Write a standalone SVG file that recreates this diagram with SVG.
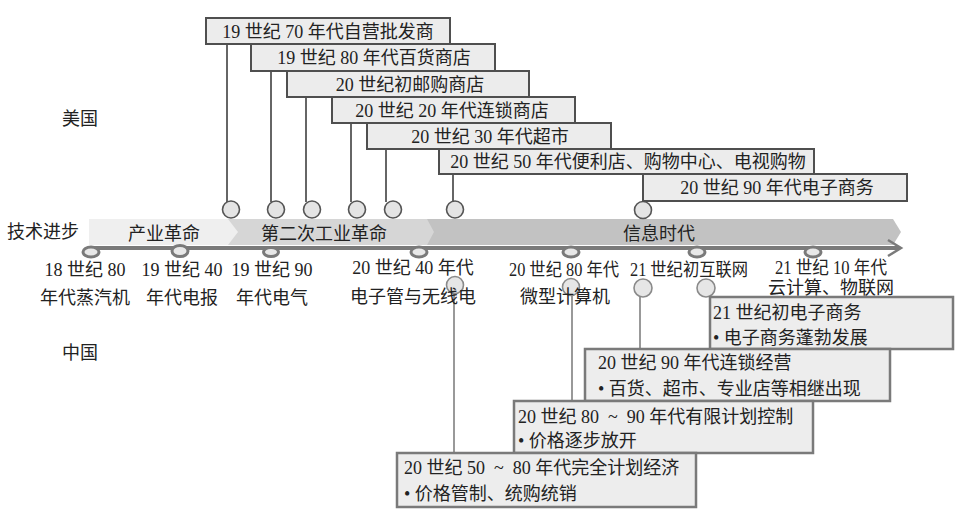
<svg xmlns="http://www.w3.org/2000/svg" width="963" height="520" viewBox="0 0 963 520">
<defs>
<style>
text{font-family:"Liberation Serif","Noto Sans CJK SC",serif;font-size:18px;fill:#222}
.c{text-anchor:middle}
.us rect{fill:#ececec;stroke:#4f4f4f;stroke-width:2}
.cn rect{fill:#ededed;stroke:#7a7a7a;stroke-width:2.5}
.usl{stroke:#666;stroke-width:2;fill:none}
.cnl{stroke:#999;stroke-width:2;fill:none}
.usc{fill:#e4e4e4;stroke:#555;stroke-width:1.6}
.cnc{fill:#e6e6e6;stroke:#8a8a8a;stroke-width:1.6}
.tk{fill:#e8e8e8;stroke:#7a7a7a;stroke-width:3}
</style>
</defs>
<rect width="963" height="520" fill="#fff"/>

<!-- side labels -->
<text x="62" y="125">美国</text>
<text x="7" y="238">技术进步</text>
<text x="62" y="359">中国</text>

<!-- technology band -->
<g id="band">
<polygon points="420,219 893,219 901,232 893,245 420,245" fill="#c2c2c2"/>
<polygon points="228,219 427,219 434,232 427,245 228,245" fill="#d6d6d6"/>
<polygon points="89,219 228,219 238,232 228,245 89,245" fill="#efefef"/>
<text class="c" x="164" y="240">产业革命</text>
<text class="c" x="324" y="240">第二次工业革命</text>
<text class="c" x="659" y="240">信息时代</text>
</g>

<!-- connectors -->
<g id="connectors">
<line class="usl" x1="227" y1="44" x2="227" y2="202"/>
<line class="usl" x1="271" y1="71" x2="271" y2="202"/>
<line class="usl" x1="306" y1="97" x2="306" y2="202"/>
<line class="usl" x1="351" y1="123" x2="351" y2="202"/>
<line class="usl" x1="386" y1="149" x2="386" y2="202"/>
<line class="usl" x1="453" y1="174" x2="453" y2="202"/>
<line class="cnl" x1="454" y1="293" x2="454" y2="453"/>
<line class="cnl" x1="572" y1="295" x2="572" y2="401"/>
<line class="cnl" x1="640" y1="297" x2="640" y2="349"/>
<line x1="90" y1="248" x2="900" y2="248" stroke="#7a7a7a" stroke-width="4"/>
<polyline points="888,240 901,248 888,256" fill="none" stroke="#7a7a7a" stroke-width="2.5"/>
</g>

<!-- US milestone circles -->
<g id="us-dots">
<circle class="usc" cx="231" cy="209.5" r="8.5"/>
<circle class="usc" cx="276" cy="209.5" r="8.5"/>
<circle class="usc" cx="312" cy="209.5" r="8.5"/>
<circle class="usc" cx="357" cy="209.5" r="8.5"/>
<circle class="usc" cx="393" cy="209.5" r="8.5"/>
<circle class="usc" cx="455" cy="209.5" r="8.5"/>
<circle class="usc" cx="643" cy="210" r="8.5"/>
</g>

<!-- China milestone circles -->
<g id="cn-dots">
<circle class="cnc" cx="455" cy="285" r="8.5"/>
<circle class="cnc" cx="571" cy="287" r="8.5"/>
<circle class="cnc" cx="643" cy="288" r="9"/>
<circle class="cnc" cx="706" cy="288" r="9"/>
</g>

<!-- timeline ticks -->
<g id="ticks">
<ellipse class="tk" cx="91" cy="252" rx="8" ry="5"/>
<ellipse class="tk" cx="180" cy="251" rx="8" ry="5.5"/>
<ellipse class="tk" cx="271" cy="252" rx="7.5" ry="4.5"/>
<ellipse class="tk" cx="419" cy="252" rx="8" ry="5"/>
<ellipse class="tk" cx="571" cy="252" rx="8" ry="5"/>
<ellipse class="tk" cx="697" cy="252" rx="8" ry="5"/>
<ellipse class="tk" cx="813" cy="252" rx="8" ry="5"/>
</g>

<!-- tech labels -->
<g id="tech-labels">
<text class="c" x="85" y="276">18 世纪 80</text>
<text class="c" x="85" y="304">年代蒸汽机</text>
<text class="c" x="182" y="276">19 世纪 40</text>
<text class="c" x="182" y="304">年代电报</text>
<text class="c" x="272" y="276">19 世纪 90</text>
<text class="c" x="272" y="304">年代电气</text>
<text class="c" x="413" y="274">20 世纪 40 年代</text>
<text class="c" x="413" y="303">电子管与无线电</text>
<text class="c" x="564" y="276" textLength="110" lengthAdjust="spacingAndGlyphs">20 世纪 80 年代</text>
<text class="c" x="565" y="303">微型计算机</text>
<text class="c" x="689" y="276" textLength="118" lengthAdjust="spacingAndGlyphs">21 世纪初互联网</text>
<text class="c" x="831" y="274" textLength="112" lengthAdjust="spacingAndGlyphs">21 世纪 10 年代</text>
<text class="c" x="831" y="294">云计算、物联网</text>
</g>

<!-- US boxes -->
<g id="us1" class="us"><rect x="206" y="18" width="244" height="26"/><text class="c" x="328" y="38">19 世纪 70 年代自营批发商</text></g>
<g id="us2" class="us"><rect x="251" y="44" width="244" height="27"/><text class="c" x="374" y="64">19 世纪 80 年代百货商店</text></g>
<g id="us3" class="us"><rect x="287" y="71" width="242" height="26"/><text class="c" x="410" y="91">20 世纪初邮购商店</text></g>
<g id="us4" class="us"><rect x="332" y="97" width="243" height="26"/><text class="c" x="452" y="117">20 世纪 20 年代连锁商店</text></g>
<g id="us5" class="us"><rect x="367" y="123" width="244" height="26"/><text class="c" x="490" y="143">20 世纪 30 年代超市</text></g>
<g id="us6" class="us"><rect x="439" y="149" width="375" height="25"/><text class="c" x="628" y="168">20 世纪 50 年代便利店、购物中心、电视购物</text></g>
<g id="us7" class="us"><rect x="643" y="174" width="264" height="27"/><text class="c" x="777" y="194">20 世纪 90 年代电子商务</text></g>

<!-- China boxes -->
<g id="cn1" class="cn"><rect x="710" y="297" width="243" height="52"/><text x="713" y="319">21 世纪初电子商务</text><text x="713" y="344">• 电子商务蓬勃发展</text></g>
<g id="cn2" class="cn"><rect x="585" y="349" width="305" height="52"/><text x="598" y="369">20 世纪 90 年代连锁经营</text><text x="598" y="395">• 百货、超市、专业店等相继出现</text></g>
<g id="cn3" class="cn"><rect x="514" y="401" width="299" height="52"/><text x="518" y="423">20 世纪 80&#160;&#160;~&#160;&#160;90 年代有限计划控制</text><text x="518" y="447">• 价格逐步放开</text></g>
<g id="cn4" class="cn"><rect x="397" y="453" width="299" height="54"/><text x="404" y="474">20 世纪 50&#160;&#160;~&#160;&#160;80 年代完全计划经济</text><text x="404" y="500">• 价格管制、统购统销</text></g>
</svg>
